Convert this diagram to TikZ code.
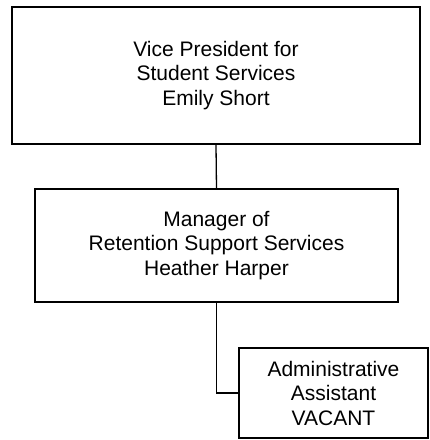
\documentclass[tikz,border=0pt]{standalone}
\usepackage{fontspec}
\setmainfont{Liberation Sans}
\begin{document}
\begin{tikzpicture}[x=1pt,y=-1pt,
  box/.style={draw=black,line width=1.3pt,fill=white,align=center,inner sep=0pt,
    font=\fontsize{21}{24.5}\selectfont},
  conn/.style={draw=black,line width=1.3pt}]
\useasboundingbox[fill=white] (0,0) rectangle (430,440);
\node[box,minimum width=408,minimum height=137] (vp) at (216,75.5)
  {Vice President for\\Student Services\\Emily Short};
\node[box,minimum width=363,minimum height=113] (mgr) at (216.5,245.5)
  {Manager of\\Retention Support Services\\Heather Harper};
\node[box,minimum width=189,minimum height=90] (aa) at (333.5,393)
  {Administrative\\Assistant\\VACANT};
\draw[conn] (vp.south) -- (mgr.north);
\draw[conn] (mgr.south) |- (aa.west);
\end{tikzpicture}
\end{document}
